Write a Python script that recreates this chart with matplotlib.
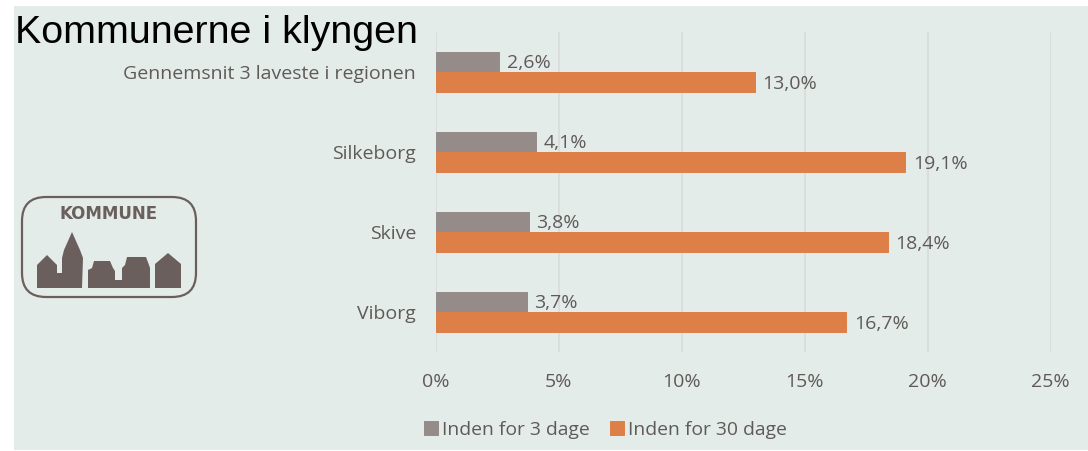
import matplotlib
matplotlib.use("Agg")
import matplotlib.pyplot as plt
from matplotlib.patches import FancyBboxPatch, Polygon, Rectangle

# data
kommuner = ["Gennemsnit 3 laveste i regionen", "Silkeborg", "Skive", "Viborg"]
inden_3 = [2.6, 4.1, 3.8, 3.7]
inden_30 = [13.0, 19.1, 18.4, 16.7]
labels_3 = ["2,6%", "4,1%", "3,8%", "3,7%"]
labels_30 = ["13,0%", "19,1%", "18,4%", "16,7%"]
xticks = [0, 5, 10, 15, 20, 25]
xticklabels = ["0%", "5%", "10%", "15%", "20%", "25%"]

W, H = 1088, 451
BG = "#e4ecE9"
GREY = "#958b88"
ORANGE = "#dd7f47"
TXT = "#5f5a58"
LOGO = "#6b5f5d"
FS = 14

plt.rcParams["font.family"] = ["Open Sans", "DejaVu Sans"]

fig = plt.figure(figsize=(W / 100, H / 100), dpi=100, facecolor="white")

# overlay in pixel coords for the panel, title and logo
bg = fig.add_axes([0, 0, 1, 1])
bg.set_xlim(0, W)
bg.set_ylim(H, 0)
bg.axis("off")
bg.add_patch(Rectangle((14, 6), W - 14, 444, fc=BG, ec="none"))
bg.text(15, 33, "Kommunerne i klyngen", family="Liberation Sans", fontsize=28.4,
        color="black", va="center", ha="left")

# logo
bg.add_patch(FancyBboxPatch((22, 197), 174, 100, boxstyle="round,pad=0,rounding_size=24",
                            fc="none", ec=LOGO, lw=1.6))
bg.text(109, 214, "KOMMUNE", family="DejaVu Sans", fontsize=12, fontweight="bold",
        color=LOGO, ha="center", va="center")
houses = [
    [(37, 288), (37, 265), (47, 255), (57, 265), (57, 273), (62, 273), (62, 258), (64, 250),
     (72, 232), (80, 250), (83, 258), (82, 288)],
    [(88, 288), (88, 270), (92, 268), (94, 261), (110, 261), (113, 268), (115, 271), (115, 280),
     (122, 280), (122, 268), (125, 265), (127, 257), (146, 257), (149, 265), (150, 268), (150, 288)],
    [(155, 288), (155, 264), (168, 253), (181, 264), (181, 288)],
]
for pts in houses:
    bg.add_patch(Polygon(pts, closed=True, fc=LOGO, ec="none"))

# chart: 0% at x=435.5, 25% at x=1050.5, plot from y=32 to y=352
ax = fig.add_axes([435.5 / W, 1 - 352 / H, 615 / W, 320 / H])
ax.patch.set_alpha(0)
y = list(range(len(kommuner)))
ax.barh([i - 0.125 for i in y], inden_3, height=0.26, color=GREY, edgecolor=GREY, lw=0.7,
        label="Inden for 3 dage", zorder=3)
ax.barh([i + 0.125 for i in y], inden_30, height=0.26, color=ORANGE, edgecolor=ORANGE, lw=0.7,
        label="Inden for 30 dage", zorder=3)
ax.set_xlim(0, 25)
ax.set_ylim(3.5, -0.5)
ax.set_xticks(xticks)
ax.set_xticklabels(xticklabels)
ax.set_yticks(y)
ax.set_yticklabels(kommuner)
ax.tick_params(axis="both", length=0, labelsize=FS, labelcolor=TXT)
ax.tick_params(axis="x", pad=15)
ax.tick_params(axis="y", pad=14)
ax.grid(axis="x", color="#d8dcda", lw=1.3, zorder=0)
for s in ax.spines.values():
    s.set_visible(False)

for i in y:
    ax.text(inden_3[i] + 0.3, i - 0.11, labels_3[i], fontsize=FS, color=TXT, va="center", ha="left", zorder=4)
    ax.text(inden_30[i] + 0.3, i + 0.155, labels_30[i], fontsize=FS, color=TXT, va="center", ha="left", zorder=4)

leg = ax.legend(loc="center left", bbox_to_anchor=((424 - 435.5) / 615, (352 - 430) / 320), ncol=2,
                frameon=False, fontsize=13.88, handlelength=0.72, handleheight=0.72,
                handletextpad=0.2, columnspacing=1.08, borderpad=0, borderaxespad=0, labelcolor=TXT)

fig.savefig("out.png", dpi=100)
